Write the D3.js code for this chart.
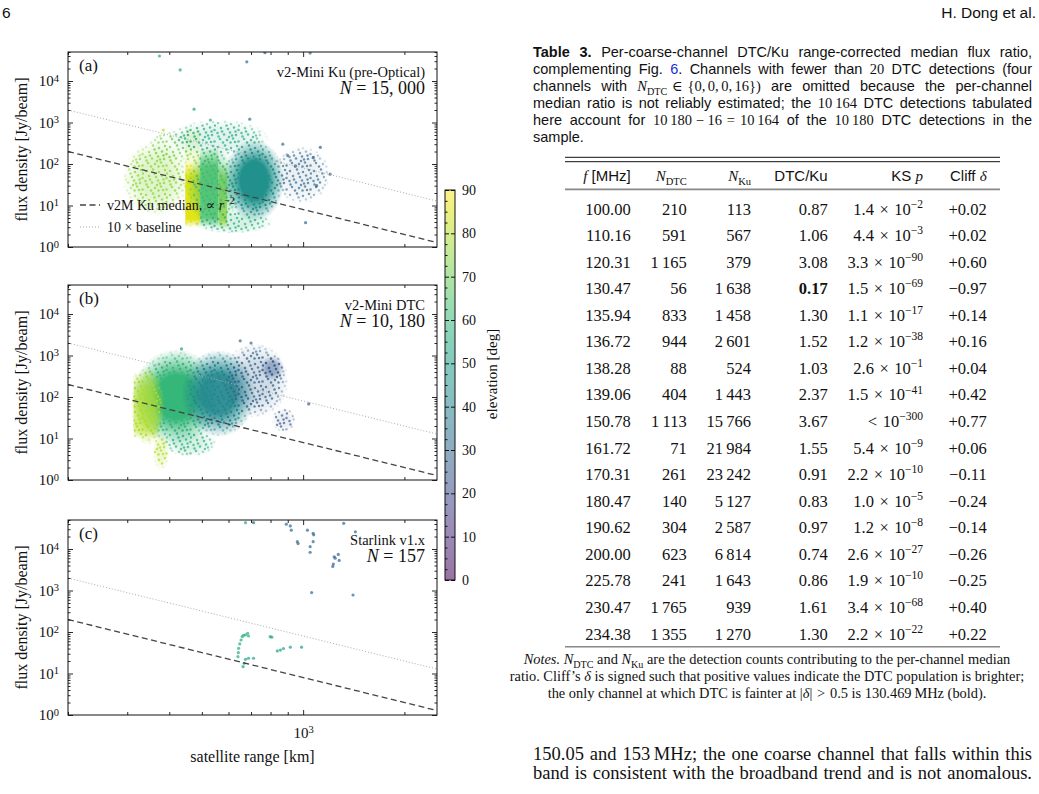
<!DOCTYPE html>
<html>
<head>
<meta charset="utf-8">
<script src="https://cdn.jsdelivr.net/npm/d3@7"></script>
<style>
body { margin: 0; background: #fff; }
</style>
</head>
<body>
<svg id="page" width="1039" height="794" font-family='"Liberation Serif", "DejaVu Serif", serif' fill="#111"></svg>
<script>
// ---------- figure data ----------
const panelLabels = ['(a)', '(b)', '(c)'];
const panelTitles = ['v2-Mini Ku (pre-Optical)', 'v2-Mini DTC', 'Starlink v1.x'];
const panelCounts = ['15, 000', '10, 180', '157'];
const rangeDomain = [200, 2500];     // km
const fluxDomain = [1, 5e4];         // Jy/beam
const medianRef = [200, 200];        // [km, Jy] anchor of the r^-2 median
const medianSlope = -2;
const baselineFactor = 10;
const elevTicks = [0, 10, 20, 30, 40, 50, 60, 70, 80, 90];

// point clouds: [range km, flux Jy, half-width dex, half-height dex, elevation deg, density]
const kuClouds = [
  [365, 45, 0.10, 0.90, 75, 0.50],
  [405, 260, 0.07, 0.40, 72, 0.25],
  [560, 420, 0.15, 0.45, 55, 0.35],
  [540, 28, 0.08, 0.95, 62, 0.70],
  [715, 40, 0.09, 1.00, 45, 0.95],
  [990, 55, 0.085, 0.70, 30, 0.30],
  [620, 4, 0.12, 0.28, 58, 0.40]
];
// vertical bands: [range min, range max, flux min, flux max, elevation, density]
const kuBands = [
  [446, 494, 3, 130, 86, 0.95],
  [446, 494, 100, 800, 78, 0.35],
  [494, 560, 3, 260, 66, 0.85],
  [560, 594, 2.8, 105, 80, 0.85]
];
const dtcClouds = [
  [420, 100, 0.13, 1.15, 60, 0.95],
  [560, 120, 0.11, 1.05, 42, 0.90],
  [720, 250, 0.10, 0.90, 28, 0.45],
  [345, 60, 0.05, 0.95, 80, 0.75],
  [378, 5, 0.025, 0.45, 80, 0.45],
  [460, 8, 0.08, 0.35, 58, 0.40],
  [810, 500, 0.035, 0.30, 25, 0.60],
  [875, 28, 0.035, 0.30, 26, 0.30]
];
const dtcBands = [
  [313, 372, 10, 400, 80, 0.60]
];
// single points: [range km, flux Jy, elevation deg]
const kuPoints = [
  [374, 40000, 55], [431, 18500, 50], [680, 29000, 32], [770, 48000, 30], [1049, 47000, 35],
  [474, 2100, 52], [694, 1200, 35], [530, 1150, 55], [1125, 252, 25], [1071, 142, 28],
  [1203, 57, 30], [1097, 30, 25], [1017, 3.85, 30], [384, 660, 80], [900, 160, 30],
  [950, 90, 30], [870, 300, 35]
];
const dtcPoints = [
  [1039, 68, 25], [650, 2260, 30], [435, 1440, 48], [700, 2000, 28]
];
const v1Points = [
  [712, 43000, 30], [891, 39600, 30], [916, 36000, 30], [922, 28500, 30], [1030, 28500, 30],
  [1071, 24000, 30], [1075, 22000, 30], [961, 15000, 30], [966, 13500, 30], [1071, 15000, 30],
  [1049, 11400, 30], [1049, 8300, 30], [1237, 6500, 28], [1245, 6000, 28], [1230, 4350, 28],
  [1225, 3800, 28], [1272, 7400, 28], [1280, 5300, 28], [1320, 41500, 30], [1430, 26000, 30],
  [1060, 890, 30], [1407, 780, 30], [674, 43000, 55],
  [640, 25.4, 55], [642, 31.7, 55], [643, 40.4, 55], [648, 51.5, 55], [654, 64.2, 55],
  [659, 77.3, 55], [665, 83.5, 55], [674, 85, 55], [684, 93, 55], [688, 80, 55],
  [663, 14.6, 52], [668, 17.6, 52], [674, 22, 52], [688, 23.3, 52], [712, 23.3, 52],
  [798, 77, 52], [807, 75, 52], [856, 36.7, 50], [874, 40, 50], [916, 43, 50],
  [989, 43, 50], [838, 35, 50]
];

// ---------- table data ----------
const freqs = [100.00, 110.16, 120.31, 130.47, 135.94, 136.72, 138.28, 139.06, 150.78, 161.72, 170.31, 180.47, 190.62, 200.00, 225.78, 230.47, 234.38];
const nDtc = [210, 591, 1165, 56, 833, 944, 88, 404, 1113, 71, 261, 140, 304, 623, 241, 1765, 1355];
const nKu = [113, 567, 379, 1638, 1458, 2601, 524, 1443, 15766, 21984, 23242, 5127, 2587, 6814, 1643, 939, 1270];
const ratios = [0.87, 1.06, 3.08, 0.17, 1.30, 1.52, 1.03, 2.37, 3.67, 1.55, 0.91, 0.83, 0.97, 0.74, 0.86, 1.61, 1.30];
const ksMant = [1.4, 4.4, 3.3, 1.5, 1.1, 1.2, 2.6, 1.5, null, 5.4, 2.2, 1.0, 1.2, 2.6, 1.9, 3.4, 2.2];
const ksExp = [-2, -3, -90, -69, -17, -38, -1, -41, -300, -9, -10, -5, -8, -27, -10, -68, -22];
const cliffD = [0.02, 0.02, 0.60, -0.97, 0.14, 0.16, 0.04, 0.42, 0.77, 0.06, -0.11, -0.24, -0.14, -0.26, -0.25, 0.40, 0.22];
const boldRow = 3;

const SANS = '"Liberation Sans", Arial, sans-serif';
const SERIF = '"Liberation Serif", "DejaVu Serif", serif';

const svg = d3.select('#page');
const defs = svg.append('defs');

// rich text: segments [text, style]
function rich(g, segs, fs, x, y, anchor) {
  const t = g.append('text').attr('x', x).attr('y', y).attr('font-size', fs)
    .attr('text-anchor', anchor || 'start');
  let shift = 0;
  segs.forEach(([s, st]) => {
    const sp = t.append('tspan').text(s);
    let target = 0;
    if (st === 'sub') target = 0.28 * fs;
    if (st === 'sup') target = -0.42 * fs;
    if (target !== shift) { sp.attr('dy', target - shift); shift = target; }
    if (st === 'sub' || st === 'sup') sp.attr('font-size', fs * 0.7);
    const sans = (st === 'n' || st === 'b' || st === 'link');
    sp.attr('font-family', sans ? SANS : SERIF);
    if (st === 'b' || st === 'mb') sp.attr('font-weight', 'bold');
    if (st === 'i') sp.attr('font-style', 'italic');
    if (st === 'link') sp.attr('fill', '#2030d0');
  });
  return t;
}
function justify(t, width) {
  const node = t.node();
  const len = node.getComputedTextLength();
  const spaces = (node.textContent.match(/ /g) || []).length;
  if (spaces > 0) t.attr('word-spacing', (width - len) / spaces);
}

// ---------- masks for the point clouds ----------
function radialMask(id, solid) {
  const gr = defs.append('radialGradient').attr('id', id + 'G');
  [[0, '#fff'], [solid, '#fff'], [1, '#000']].forEach(([o, c]) => gr.append('stop').attr('offset', o).attr('stop-color', c));
  defs.append('mask').attr('id', id).attr('maskContentUnits', 'objectBoundingBox')
    .append('rect').attr('width', 1).attr('height', 1).attr('fill', `url(#${id}G)`);
}
function bandMask(id, a, b) {
  const gr = defs.append('linearGradient').attr('id', id + 'G').attr('x1', 0).attr('x2', 0).attr('y1', 0).attr('y2', 1);
  [[0, '#000'], [a, '#fff'], [b, '#fff'], [1, '#000']].forEach(([o, c]) => gr.append('stop').attr('offset', o).attr('stop-color', c));
  defs.append('mask').attr('id', id).attr('maskContentUnits', 'objectBoundingBox')
    .append('rect').attr('width', 1).attr('height', 1).attr('fill', `url(#${id}G)`);
}
radialMask('ellSoft', 0.45);
radialMask('ellEdge', 0.7);
bandMask('bandSoft', 0.25, 0.88);
bandMask('bandEdge', 0.15, 0.92);

const pat = defs.append('pattern').attr('id', 'dotPat').attr('patternUnits', 'userSpaceOnUse')
  .attr('width', 24).attr('height', 24);
pat.append('rect').attr('width', 24).attr('height', 24).attr('fill', '#000');
[[2, 3], [9, 1.5], [15, 4], [21, 2], [5, 8], [12, 9], [18, 7.5], [22.5, 10], [1.5, 13], [8, 14.5],
 [14, 12.5], [20, 15], [4, 19], [11, 20], [17, 18.5], [22.5, 21.5], [7, 22.5], [14.5, 22.5],
 [2.5, 16.5], [19.5, 11.5], [10.5, 5.5], [16, 15.5], [6, 11.5], [13, 17], [19, 22], [23, 5.5]]
  .forEach(([a, b]) => pat.append('circle').attr('cx', a).attr('cy', b).attr('r', 1.25).attr('fill', '#fff'));
defs.append('mask').attr('id', 'dots').attr('maskUnits', 'userSpaceOnUse')
  .attr('x', 0).attr('y', 0).attr('width', 1039).attr('height', 794)
  .append('rect').attr('width', 1039).attr('height', 794).attr('fill', 'url(#dotPat)');

const color = e => d3.interpolateViridis(e / 90);

// ---------- panels ----------
const left = 68, right = 437, ph = 195;
const panelTops = [52, 285, 520];
const x = d3.scaleLog().domain(rangeDomain).range([left, right]);
const clouds = [kuClouds, dtcClouds, []];
const bands = [kuBands, dtcBands, []];
const points = [kuPoints, dtcPoints, v1Points];

function drawCloud(g, cl, bd, y, opa, ellMask, bdMask) {
  g.selectAll('rect.band').data(bd).enter().append('rect')
    .attr('x', d => x(d[0])).attr('width', d => x(d[1]) - x(d[0]))
    .attr('y', d => y(d[3])).attr('height', d => y(d[2]) - y(d[3]))
    .attr('fill', d => color(d[4])).attr('fill-opacity', d => opa(d[5]))
    .attr('mask', `url(#${bdMask})`);
  g.selectAll('ellipse').data(cl).enter().append('ellipse')
    .attr('cx', d => x(d[0])).attr('cy', d => y(d[1]))
    .attr('rx', d => x(d[0] * Math.pow(10, d[2])) - x(d[0]))
    .attr('ry', d => y(d[1]) - y(d[1] * Math.pow(10, d[3])))
    .attr('fill', d => color(d[4])).attr('fill-opacity', d => opa(d[5]))
    .attr('mask', `url(#${ellMask})`);
}

panelTops.forEach((top, i) => {
  const y = d3.scaleLog().domain(fluxDomain).range([top + ph, top]);
  const g = svg.append('g');
  const cid = 'clip' + i;
  defs.append('clipPath').attr('id', cid).append('rect')
    .attr('x', left).attr('y', top).attr('width', right - left).attr('height', ph);
  const plot = g.append('g').attr('clip-path', `url(#${cid})`);

  drawCloud(plot.append('g'), clouds[i], bands[i], y, d => Math.min(1, d * d * 1.15), 'ellSoft', 'bandSoft');
  drawCloud(plot.append('g').attr('mask', 'url(#dots)'), clouds[i], bands[i], y, d => 0.55 + d * 0.45, 'ellEdge', 'bandEdge');

  plot.selectAll('circle.pt').data(points[i]).enter().append('circle')
    .attr('cx', d => x(d[0])).attr('cy', d => y(d[1])).attr('r', 1.6)
    .attr('fill', d => color(d[2])).attr('fill-opacity', 0.7);

  // median and 10x baseline lines
  const model = r => medianRef[1] * Math.pow(r / medianRef[0], medianSlope);
  const line = d3.line().x(d => x(d[0])).y(d => y(d[1]));
  plot.append('path').datum(rangeDomain.map(r => [r, model(r)])).attr('d', line)
    .attr('fill', 'none').attr('stroke', '#444').attr('stroke-width', 1.3).attr('stroke-dasharray', '6,3.5');
  plot.append('path').datum(rangeDomain.map(r => [r, baselineFactor * model(r)])).attr('d', line)
    .attr('fill', 'none').attr('stroke', '#aaa').attr('stroke-width', 1).attr('stroke-dasharray', '1,2');

  // axes (inward ticks on all four sides)
  const yAll = y.ticks();
  const yMajor = yAll.filter(v => Math.abs(Math.log10(v) - Math.round(Math.log10(v))) < 1e-9);
  const yMinor = yAll.filter(v => !yMajor.includes(v));
  const xAll = x.ticks();
  const xMajor = xAll.filter(v => Math.abs(Math.log10(v) - Math.round(Math.log10(v))) < 1e-9);
  const xMinor = xAll.filter(v => !xMajor.includes(v));
  const styleAx = a => {
    a.select('.domain').remove();
    a.selectAll('line').attr('stroke', '#111').attr('stroke-width', 0.9);
    a.selectAll('text').attr('font-family', SERIF).attr('font-size', 15).attr('fill', '#111');
  };
  const sup = function (d) {
    const t = d3.select(this);
    t.text('');
    t.append('tspan').text('10');
    t.append('tspan').attr('dy', '-0.45em').attr('font-size', '0.7em').text(Math.round(Math.log10(d)));
  };
  g.append('g').attr('transform', `translate(${left},0)`)
    .call(d3.axisLeft(y).tickValues(yMajor).tickSize(-5).tickPadding(9))
    .call(styleAx).call(a => a.selectAll('text').each(sup));
  g.append('g').attr('transform', `translate(${left},0)`)
    .call(d3.axisLeft(y).tickValues(yMinor).tickSize(-2.5).tickFormat('')).call(styleAx);
  g.append('g').attr('transform', `translate(${right},0)`)
    .call(d3.axisRight(y).tickValues(yMajor).tickSize(-5).tickFormat('')).call(styleAx);
  g.append('g').attr('transform', `translate(${right},0)`)
    .call(d3.axisRight(y).tickValues(yMinor).tickSize(-2.5).tickFormat('')).call(styleAx);
  const xb = g.append('g').attr('transform', `translate(0,${top + ph})`)
    .call(d3.axisBottom(x).tickValues(xMajor).tickSize(-5).tickPadding(12)
      .tickFormat(i === 2 ? null : '')).call(styleAx);
  if (i === 2) xb.selectAll('text').each(sup);
  g.append('g').attr('transform', `translate(0,${top + ph})`)
    .call(d3.axisBottom(x).tickValues(xMinor).tickSize(-3).tickFormat('')).call(styleAx);
  g.append('g').attr('transform', `translate(0,${top})`)
    .call(d3.axisTop(x).tickValues(xMajor).tickSize(-5).tickFormat('')).call(styleAx);
  g.append('g').attr('transform', `translate(0,${top})`)
    .call(d3.axisTop(x).tickValues(xMinor).tickSize(-3).tickFormat('')).call(styleAx);

  g.append('rect').attr('x', left).attr('y', top).attr('width', right - left).attr('height', ph)
    .attr('fill', 'none').attr('stroke', '#111').attr('stroke-width', 1);

  // annotations
  g.append('text').attr('x', left + 11).attr('y', top + 19).attr('font-size', 17).text(panelLabels[i]);
  g.append('text').attr('x', right - 12).attr('y', top + 25).attr('font-size', 14.5)
    .attr('text-anchor', 'end').text(panelTitles[i]);
  rich(g, [['N', 'i'], [' = ' + panelCounts[i], 'm']], 18, right - 12, top + 42, 'end');

  g.append('text').attr('transform', `translate(27,${top + ph / 2}) rotate(-90)`)
    .attr('text-anchor', 'middle').attr('font-size', 16).text('flux density [Jy/beam]');

  if (i === 0) {
    const lgd = g.append('g');
    lgd.append('line').attr('x1', 80).attr('x2', 100).attr('y1', top + 153).attr('y2', top + 153)
      .attr('stroke', '#444').attr('stroke-width', 1.3).attr('stroke-dasharray', '6,3.5');
    rich(lgd, [['v2M Ku median,  \u221D ', 'm'], ['r', 'i'], ['\u22122', 'sup']], 14, 107, top + 158);
    lgd.append('line').attr('x1', 80).attr('x2', 100).attr('y1', top + 175).attr('y2', top + 175)
      .attr('stroke', '#aaa').attr('stroke-width', 1).attr('stroke-dasharray', '1,2');
    rich(lgd, [['10 \u00D7  baseline', 'm']], 14, 107, top + 180);
  }
});

svg.append('text').attr('x', (left + right) / 2).attr('y', 762).attr('text-anchor', 'middle')
  .attr('font-size', 16).text('satellite range [km]');

// ---------- colour bar ----------
const cb = svg.append('g');
const cbX = 445, cbW = 10;
const cbY = d3.scaleLinear().domain([0, 90]).range([580, 190]);
const cg = defs.append('linearGradient').attr('id', 'cbGrad').attr('x1', 0).attr('x2', 0).attr('y1', 1).attr('y2', 0);
d3.range(0, 1.0001, 0.05).forEach(t => cg.append('stop').attr('offset', t).attr('stop-color', d3.interpolateViridis(t)));
cb.append('rect').attr('x', cbX).attr('y', cbY(90)).attr('width', cbW).attr('height', cbY(0) - cbY(90))
  .attr('fill', 'url(#cbGrad)').attr('fill-opacity', 0.55);
const cbMinor = d3.range(0, 90.1, 2.5).filter(v => v % 10 !== 0);
cb.append('g').attr('transform', `translate(${cbX + cbW},0)`)
  .call(d3.axisRight(cbY).tickValues(elevTicks).tickSize(4).tickPadding(4))
  .call(a => {
    a.select('.domain').remove();
    a.selectAll('line').attr('stroke', '#111').attr('x1', -cbW).attr('x2', -cbW + 4);
    a.selectAll('text').attr('font-family', SERIF).attr('font-size', 14).attr('x', 7).attr('fill', '#111');
  });
cb.append('g').attr('transform', `translate(${cbX},0)`)
  .call(d3.axisLeft(cbY).tickValues(cbMinor).tickSize(-2.5).tickFormat(''))
  .call(a => { a.select('.domain').remove(); a.selectAll('line').attr('stroke', '#111'); });
cb.append('g').attr('transform', `translate(${cbX + cbW},0)`)
  .call(d3.axisRight(cbY).tickValues(elevTicks).tickSize(-4).tickFormat(''))
  .call(a => { a.select('.domain').remove(); a.selectAll('line').attr('stroke', '#111'); });
cb.append('rect').attr('x', cbX).attr('y', cbY(90)).attr('width', cbW).attr('height', cbY(0) - cbY(90))
  .attr('fill', 'none').attr('stroke', '#111').attr('stroke-width', 1);
cb.append('text').attr('transform', 'translate(497,374) rotate(-90)').attr('text-anchor', 'middle')
  .attr('font-size', 15).text('elevation [deg]');

// ---------- page header ----------
svg.append('text').attr('x', 2).attr('y', 18).attr('font-family', SANS).attr('font-size', 15.5).text('6');
svg.append('text').attr('x', 1036).attr('y', 18).attr('text-anchor', 'end')
  .attr('font-family', SANS).attr('font-size', 15.5).text('H. Dong et al.');

// ---------- table caption ----------
const colL = 533, colW = 499;
const cap = svg.append('g');
const capLines = [
  [['Table 3.', 'b'], [' Per-coarse-channel DTC/Ku range-corrected median flux ratio,', 'n']],
  [['complementing Fig. ', 'n'], ['6', 'link'], ['. Channels with fewer than ', 'n'], ['20', 'm'], [' DTC detections (four', 'n']],
  [['channels with ', 'n'], ['N', 'i'], ['DTC', 'sub'], ['\u2004\u2208\u2004{0,\u20060,\u20060,\u200616})', 'm'], [' are omitted because the per-channel', 'n']],
  [['median ratio is not reliably estimated; the ', 'n'], ['10\u2009164', 'm'], [' DTC detections tabulated', 'n']],
  [['here account for ', 'n'], ['10\u2009180\u2005\u2212\u200516\u2004=\u200410\u2009164', 'm'], [' of the ', 'n'], ['10\u2009180', 'm'], [' DTC detections in the', 'n']],
  [['sample.', 'n']]
];
capLines.forEach((segs, k) => {
  const t = rich(cap, segs, 14.5, colL, 56.5 + k * 17.1);
  if (k < capLines.length - 1) justify(t, colW);
});

// ---------- table ----------
const tb = svg.append('g');
const tL = 565, tR = 1000;
const colX = [630.7, 686.7, 751, 827.7, 923, 986.7];
tb.append('line').attr('x1', tL).attr('x2', tR).attr('y1', 157.3).attr('y2', 157.3).attr('stroke', '#111').attr('stroke-width', 1);
tb.append('line').attr('x1', tL).attr('x2', tR).attr('y1', 161.7).attr('y2', 161.7).attr('stroke', '#111').attr('stroke-width', 1);
tb.append('line').attr('x1', tL).attr('x2', tR).attr('y1', 189.3).attr('y2', 189.3).attr('stroke', '#888').attr('stroke-width', 1.8);
tb.append('line').attr('x1', tL).attr('x2', tR).attr('y1', 646.7).attr('y2', 646.7).attr('stroke', '#888').attr('stroke-width', 1.6);
const heads = [
  [['f', 'i'], [' [MHz]', 'n']],
  [['N', 'i'], ['DTC', 'sub']],
  [['N', 'i'], ['Ku', 'sub']],
  [['DTC/Ku', 'n']],
  [['KS ', 'n'], ['p', 'i']],
  [['Cliff ', 'n'], ['\u03B4', 'i']]
];
heads.forEach((h, c) => rich(tb, h, 15, colX[c], 181, 'end'));

const loc = d3.formatLocale({ decimal: '.', thousands: '\u2009', grouping: [3], currency: ['', ''], minus: '\u2212' });
const fInt = v => v >= 1000 ? loc.format(',')(v) : String(v);
const fSign = loc.format('+.2f');
const rowY = d3.scaleLinear().domain([0, freqs.length - 1]).range([214.5, 639.5]);
freqs.forEach((f, r) => {
  const yy = rowY(r);
  rich(tb, [[f.toFixed(2), 'm']], 16.5, colX[0], yy, 'end');
  rich(tb, [[fInt(nDtc[r]), 'm']], 16.5, colX[1], yy, 'end');
  rich(tb, [[fInt(nKu[r]), 'm']], 16.5, colX[2], yy, 'end');
  rich(tb, [[ratios[r].toFixed(2), r === boldRow ? 'mb' : 'm']], 16.5, colX[3], yy, 'end');
  const ks = ksMant[r] === null
    ? [['<\u200410', 'm'], ['\u2212' + Math.abs(ksExp[r]), 'sup']]
    : [[ksMant[r].toFixed(1) + '\u2004\u00D7\u200410', 'm'], ['\u2212' + Math.abs(ksExp[r]), 'sup']];
  rich(tb, ks, 16.5, colX[4], yy, 'end');
  rich(tb, [[fSign(cliffD[r]), 'm']], 16.5, colX[5], yy, 'end');
});

// ---------- notes ----------
const notes = [
  [['Notes.', 'i'], [' ', 'm'], ['N', 'i'], ['DTC', 'sub'], [' and ', 'm'], ['N', 'i'], ['Ku', 'sub'], [' are the detection counts contributing to the per-channel median', 'm']],
  [['ratio. Cliff\u2019s ', 'm'], ['\u03B4', 'i'], [' is signed such that positive values indicate the DTC population is brighter;', 'm']],
  [['the only channel at which DTC is fainter at |', 'm'], ['\u03B4', 'i'], ['|\u2004>\u20040.5 is 130.469\u2009MHz (bold).', 'm']]
];
notes.forEach((segs, k) => rich(svg, segs, 14.4, 767, 663.5 + k * 17, 'middle'));

// ---------- body text ----------
const body = [
  [['150.05 and 153\u2009MHz; the one coarse channel that falls within this', 'm']],
  [['band is consistent with the broadband trend and is not anomalous.', 'm']]
];
body.forEach((segs, k) => justify(rich(svg, segs, 18.5, colL, 760 + k * 18.5), colW));
</script>
</body>
</html>
